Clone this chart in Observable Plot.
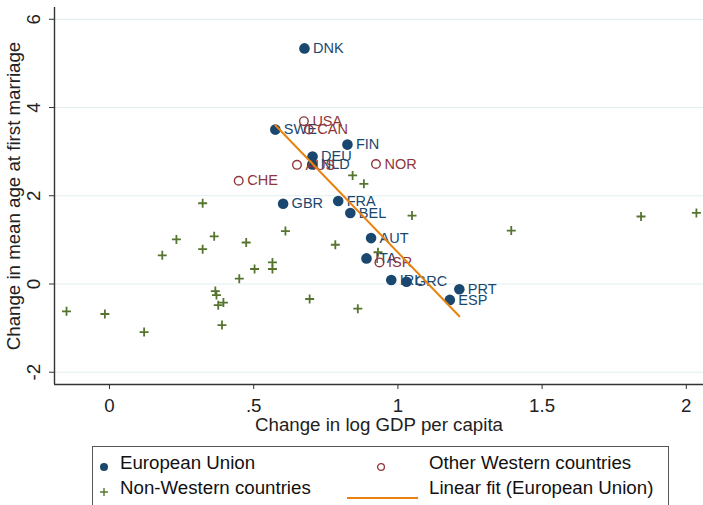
<!DOCTYPE html>
<html>
<head>
<meta charset="utf-8">
<script src="https://cdn.jsdelivr.net/npm/d3@7"></script>
<script src="https://cdn.jsdelivr.net/npm/@observablehq/plot@0.6"></script>
<style>
  html, body { margin: 0; padding: 0; background: #fff; }
  #wrap { position: relative; width: 703px; height: 505px; overflow: hidden; font-family: "Liberation Sans", Arial, sans-serif; }
  #legend { position: absolute; left: 92px; top: 446px; width: 577px; height: 66px; border: 1.5px solid #555; box-sizing: border-box; background: #fff; }
  .li { position: absolute; font-size: 18.7px; line-height: 22px; color: #111; white-space: nowrap; }
  .lm { position: absolute; }
</style>
</head>
<body>
<div id="wrap">
  <div id="chart"></div>
  <div id="legend"></div>
</div>
<script>
// European Union
const euNames = ["DNK","SWE","FIN","DEU","NLD","GBR","FRA","BEL","AUT","ITA","IRL","GRC","PRT","ESP"];
const euX = [0.676,0.575,0.825,0.704,0.703,0.602,0.793,0.835,0.907,0.891,0.977,1.030,1.213,1.180];
const euY = [5.34,3.50,3.16,2.89,2.71,1.82,1.88,1.61,1.04,0.58,0.09,0.05,-0.12,-0.36];

// Other Western countries
const owNames = ["USA","CAN","AUS","NOR","CHE","ISR"];
const owX = [0.674,0.691,0.650,0.924,0.448,0.936];
const owY = [3.69,3.50,2.70,2.72,2.34,0.49];

// Non-Western countries
const nwX = [-0.149,-0.016,0.120,0.183,0.232,0.323,0.323,0.363,0.367,0.371,0.377,0.395,0.390,0.450,0.474,0.503,0.565,0.565,0.610,0.694,0.783,0.861,0.843,0.882,1.049,0.931,1.393,1.843,2.035];
const nwY = [-0.62,-0.68,-1.09,0.65,1.01,1.83,0.79,1.08,-0.16,-0.25,-0.48,-0.42,-0.93,0.12,0.94,0.34,0.49,0.34,1.20,-0.34,0.89,-0.56,2.46,2.27,1.55,0.72,1.21,1.53,1.61];

// Axis ticks and labels
const xTicks = [0, 0.5, 1, 1.5, 2];
const xTickLabels = ["0", ".5", "1", "1.5", "2"];
const yTicks = [-2, 0, 2, 4, 6];
const yTickLabels = ["-2", "0", "2", "4", "6"];
const xTitle = "Change in log GDP per capita";
const yTitle = "Change in mean age at first marriage";
const legendLabels = ["European Union", "Other Western countries", "Non-Western countries", "Linear fit (European Union)"];

const navy = "#1a476f", maroon = "#90353b", green = "#55752f", orange = "#e8830f";

const eu = euNames.map((n, i) => ({name: n, x: euX[i], y: euY[i]}));
const ow = owNames.map((n, i) => ({name: n, x: owX[i], y: owY[i]}));
const nw = nwX.map((x, i) => ({x, y: nwY[i]}));

const xMin = -0.1907, xMax = 2.0596, yMin = -2.278, yMax = 6.267;

const chart = Plot.plot({
  width: 703,
  height: 440,
  marginLeft: 54,
  marginRight: 0,
  marginTop: 7,
  marginBottom: 56,
  style: {fontFamily: "Liberation Sans, Arial, sans-serif", fontSize: "18.7px", background: "#fff", color: "#222"},
  x: {domain: [xMin, xMax]},
  y: {domain: [yMin, yMax]},
  marks: [
    Plot.gridY(yTicks, {stroke: "#e3eef0", strokeOpacity: 1, strokeWidth: 1.2}),
    Plot.ruleX([xMin], {stroke: "#333", strokeWidth: 1.4}),
    Plot.ruleY([yMin], {stroke: "#333", strokeWidth: 1.4}),
    Plot.axisX({ticks: xTicks, tickSize: 5, tickPadding: 9, tickFormat: (d, i) => xTickLabels[i], label: null, stroke: "#333", fill: "#222"}),
    Plot.axisY({ticks: yTicks, tickSize: 5, tickPadding: 10, tickRotate: -90, tickFormat: (d, i) => yTickLabels[i], label: null, stroke: "#333", fill: "#222"}),
    Plot.text([xTitle], {frameAnchor: "bottom", dy: 41, lineAnchor: "middle", fontSize: 18.7, fill: "#222"}),
    Plot.text([yTitle], {frameAnchor: "left", dx: -40, rotate: -90, textAnchor: "middle", lineAnchor: "middle", fontSize: 18.7, fill: "#222"}),
    // Non-Western
    Plot.dot(nw, {x: "x", y: "y", symbol: "plus", r: 3, stroke: green, strokeWidth: 1.8}),
    // EU
    Plot.dot(eu, {x: "x", y: "y", r: 5.3, fill: navy, stroke: "none"}),
    Plot.text(eu, {x: "x", y: "y", text: "name", dx: 8.5, textAnchor: "start", lineAnchor: "middle", fontSize: 14.5, fill: navy}),
    // Other Western
    Plot.dot(ow, {x: "x", y: "y", r: 4.3, fill: "none", stroke: maroon, strokeWidth: 1.4}),
    Plot.text(ow, {x: "x", y: "y", text: "name", dx: 8.5, textAnchor: "start", lineAnchor: "middle", fontSize: 14.5, fill: maroon}),
    // Linear fit
    Plot.linearRegressionY(eu, {x: "x", y: "y", ci: 0, stroke: orange, strokeWidth: 2})
  ]
});
document.getElementById("chart").appendChild(chart);

// Legend
const legend = document.getElementById("legend");
function addText(txt, left, cy) {
  const s = document.createElement("span");
  s.className = "li";
  s.textContent = txt;
  s.style.left = left + "px";
  s.style.top = (cy - 11) + "px";
  legend.appendChild(s);
}
function addMarker(svgInner, left, cy, w, h) {
  const d = document.createElement("div");
  d.className = "lm";
  d.style.left = left + "px";
  d.style.top = (cy - h / 2) + "px";
  d.innerHTML = `<svg width="${w}" height="${h}">${svgInner}</svg>`;
  legend.appendChild(d);
}
const r1 = 16, r2 = 41;
addMarker(`<circle cx="5" cy="5" r="4" fill="${navy}"/>`, 6, r1, 10, 10);
addText(legendLabels[0], 27, r1);
addMarker(`<circle cx="5" cy="5" r="3.4" fill="none" stroke="${maroon}" stroke-width="1.3"/>`, 283, r1, 10, 10);
addText(legendLabels[1], 336, r1);
addMarker(`<path d="M1,5H9M5,1V9" stroke="${green}" stroke-width="1.4"/>`, 6, r2, 10, 10);
addText(legendLabels[2], 27, r2);
addMarker(`<line x1="0" y1="2" x2="71" y2="2" stroke="${orange}" stroke-width="2"/>`, 254, r2, 71, 4);
addText(legendLabels[3], 336, r2);
</script>
</body>
</html>
